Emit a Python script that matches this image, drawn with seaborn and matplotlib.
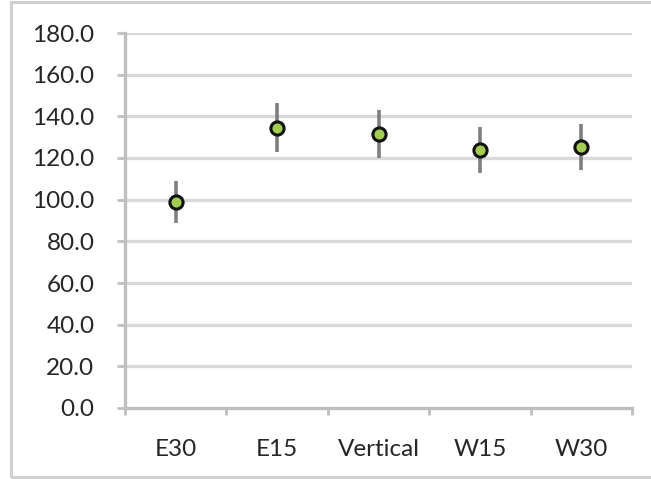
import matplotlib
matplotlib.use("Agg")
import matplotlib.pyplot as plt
from matplotlib.patches import Rectangle
import seaborn as sns
import pandas as pd

categories = ["E30", "E15", "Vertical", "W15", "W30"]
means = [99.0, 134.6, 131.5, 123.9, 125.2]
errors = [10.0, 11.6, 11.5, 11.0, 11.2]
y_ticks = [0, 20, 40, 60, 80, 100, 120, 140, 160, 180]

df = pd.DataFrame({"orientation": categories, "value": means, "err": errors})

sns.set_theme(style="white")
plt.rcParams["font.family"] = ["Lato", "DejaVu Sans"]

fig = plt.figure(figsize=(6.51, 4.79), dpi=100)
ax = fig.add_axes([125 / 651, 71 / 479, 507 / 651, 375 / 479])

grid_col = "#d9d9d9"
axis_col = "#bfbfbf"
label_size = 17.5

# horizontal gridlines
for t in y_ticks[1:]:
    ax.axhline(t, color=grid_col, lw=2.4, zorder=0)

# error bars
ax.errorbar(range(len(categories)), df["value"], yerr=df["err"], fmt="none",
            ecolor="#7f7f7f", elinewidth=2.6, capsize=0, zorder=2)

# mean markers
sns.scatterplot(data=df, x="orientation", y="value", ax=ax, s=90,
                color="#a2cc52", edgecolor="#111111", linewidth=2.2,
                zorder=3, legend=False)

ax.set_xlim(-0.5, len(categories) - 0.5)
ax.set_ylim(0, 180)
ax.set_yticks(y_ticks)
ax.set_yticklabels([f"{t:.1f}" for t in y_ticks])
ax.set_xticks(range(len(categories)))
ax.set_xticklabels(categories)
ax.set_xticks([i - 0.5 for i in range(len(categories) + 1)], minor=True)
ax.set_xlabel("")
ax.set_ylabel("")

for s in ["top", "right"]:
    ax.spines[s].set_visible(False)
for s in ["left", "bottom"]:
    ax.spines[s].set_color(axis_col)
    ax.spines[s].set_linewidth(2.4)

ax.tick_params(axis="y", which="major", direction="out", length=6, width=2,
               color=axis_col, labelsize=label_size, labelcolor="#262626",
               pad=16, left=True)
ax.tick_params(axis="x", which="major", length=0, labelsize=label_size,
               labelcolor="#262626", pad=22, bottom=True)
ax.tick_params(axis="x", which="minor", direction="out", length=5, width=2,
               color=axis_col, bottom=True)

# outer chart-area border
fig.patches.append(Rectangle((11 / 651, 2 / 479), 1.0, 475 / 479,
                             transform=fig.transFigure, fill=False,
                             edgecolor="#d0d0d0", lw=2.2))

fig.savefig("out.png", dpi=100)
